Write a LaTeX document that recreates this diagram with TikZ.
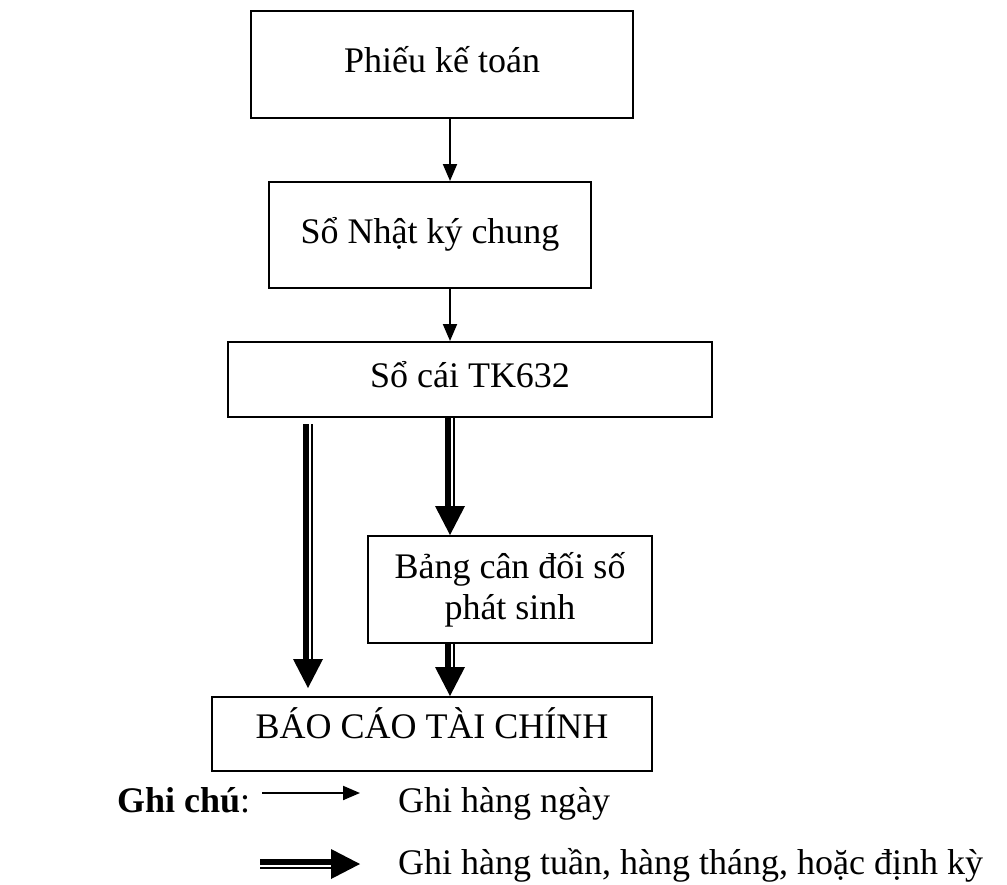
\documentclass[tikz,border=0pt]{standalone}
\usepackage{fontspec}
\setmainfont{Liberation Serif}
\usetikzlibrary{arrows.meta, calc}
\tikzset{every picture/.style={font issue=\fontsize{36}{41}},
         font issue/.style={execute at begin picture={#1\selectfont}},
         box/.style={draw, line width=2pt, inner sep=0pt, align=center},
         oneline/.style={text height=0.7em, text depth=0.25em},
         daily/.style={line width=2pt, -{Triangle[length=17pt, width=14pt]}}
}
% thick + thin line with a big head, #1 = side of the thick line
\newcommand{\weekly}[3][-90]{%
  \coordinate (wk base) at ($(#3)!29pt!(#2)$);
  \draw[line width=6pt] ($(#2)!2.5pt!#1:(#3)$) -- ($(wk base)!2.5pt!#1:(#3)$);
  \draw[line width=2pt] ($(#2)!-3.5pt!#1:(#3)$) -- ($(wk base)!-3.5pt!#1:(#3)$);
  \fill ($(wk base)!15pt!90:(#3)$) -- (#3) -- ($(wk base)!15pt!-90:(#3)$) -- cycle;
}

\begin{document}
\begin{tikzpicture}[x=1pt, y=-1pt]
        \useasboundingbox (0,0) rectangle (1007,884);
        \node [box, oneline, minimum width=382pt, minimum height=107pt] (phieu) at (442,64.5) {Phiếu kế toán};
        \node [box, oneline, minimum width=322pt, minimum height=106pt] (nhatky) at (430,235) {Sổ Nhật ký chung};
        \node [box, oneline, minimum width=484pt, minimum height=75pt] (socai) at (470,379.5) {Sổ cái TK632};
        \node [box, minimum width=284pt, minimum height=107pt] (bang) at (510,589.5) {Bảng cân đối số\\phát sinh};
        \node [box, oneline, text depth=0.45em, minimum width=440pt, minimum height=74pt] (baocao) at (432,734) {BÁO CÁO TÀI CHÍNH};
        \coordinate (colL) at (308,0);
        \coordinate (colM) at (450,0);
        \draw [daily] (phieu.south -| colM) -- (nhatky.north -| colM);
        \draw [daily] (nhatky.south -| colM) -- (socai.north -| colM);
        \coordinate (l1) at ([yshift=-6pt]socai.south -| colL);
        \coordinate (l2) at ([yshift=8pt]baocao.north -| colL);
        \coordinate (m1) at (socai.south -| colM);
        \coordinate (m2) at (bang.north -| colM);
        \coordinate (m3) at (bang.south -| colM);
        \coordinate (m4) at (baocao.north -| colM);
        \weekly{l1}{l2}
        \weekly{m1}{m2}
        \weekly{m3}{m4}
        % legend
        \node [anchor=base west, inner sep=0pt] (ghichu) at (117,812) {\bfseries Ghi chú\mdseries:};
        \coordinate (dA) at (262,793);
        \coordinate (dB) at (360,793);
        \draw [daily] (dA) -- (dB);
        \node [anchor=base west, inner sep=0pt] (txtday) at (398,812) {Ghi hàng ngày};
        \coordinate (wA) at (260,864);
        \coordinate (wB) at (360,864);
        \weekly[90]{wA}{wB}
        \node [anchor=base west, inner sep=0pt] (txtweek) at (398,874) {Ghi hàng tuần, hàng tháng, hoặc định kỳ};
\end{tikzpicture}
\end{document}
